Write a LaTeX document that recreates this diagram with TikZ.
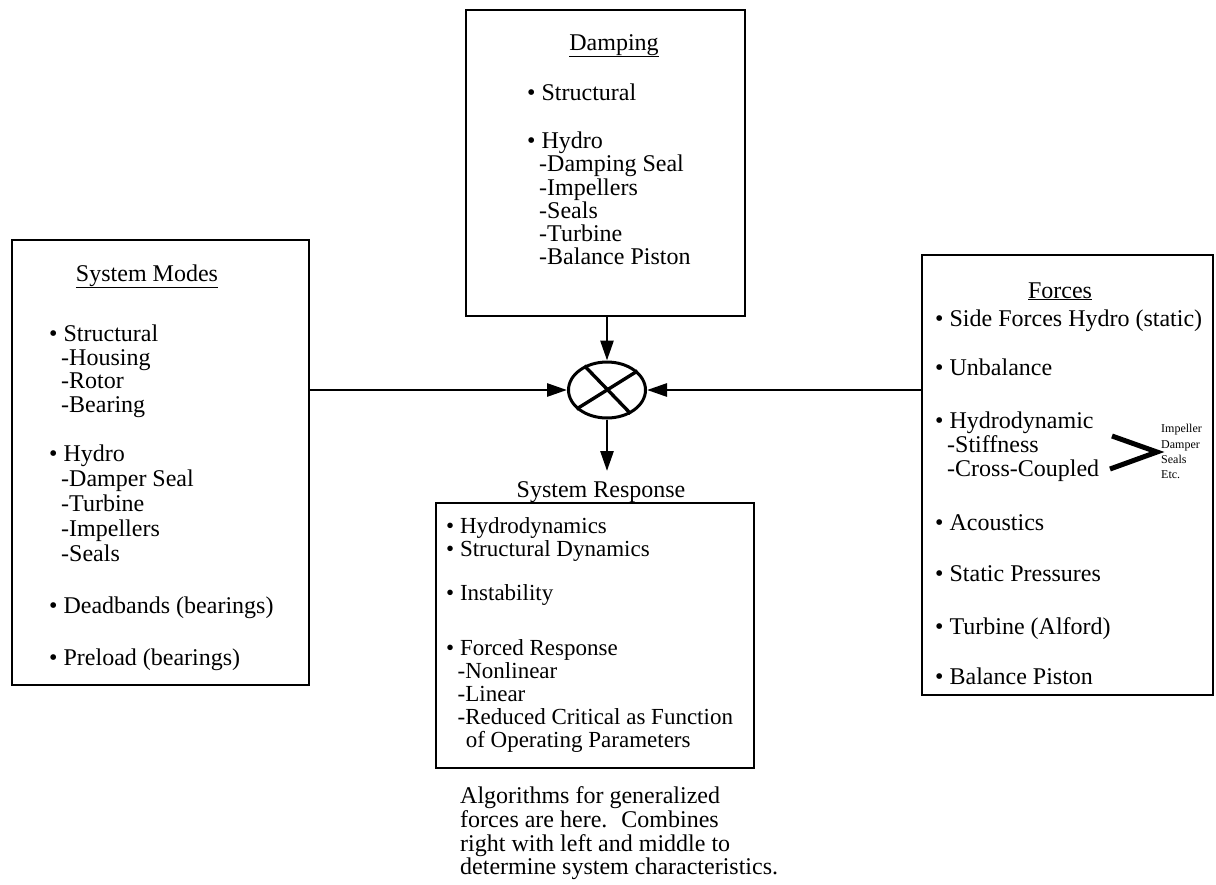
\documentclass[tikz,border=0pt]{standalone}
\usepackage{fontspec}
\setmainfont{Liberation Serif}
\usetikzlibrary{arrows.meta,shapes.geometric}
\newcommand\bul{\textbullet\ }
\newcommand\subi{\hspace*{0.5em}}
\begin{document}
\begin{tikzpicture}[x=1pt,y=-1pt,
  panel/.style={draw, line width=2.8pt, inner sep=0pt, outer sep=0pt, anchor=north west},
  entry/.style={anchor=base west, inner sep=0pt, font=\fontsize{24}{26}\selectfont},
  smallentry/.style={entry, font=\fontsize{23}{25}\selectfont},
  heading/.style={anchor=base, inner sep=0pt, font=\fontsize{24}{26}\selectfont},
  tiny/.style={anchor=base west, inner sep=0pt, font=\fontsize{12}{13}\selectfont},
  feed/.style={line width=2.8pt, -{Triangle[length=20pt,width=13pt]}},
]
\useasboundingbox (0,0) rectangle (1216,884);

% frames
\node[panel, minimum width=297pt, minimum height=445pt] (modes) at (12,240) {};
\node[panel, minimum width=279pt, minimum height=306pt] (damp) at (466,10) {};
\node[panel, minimum width=291pt, minimum height=440pt] (forces) at (922,255) {};
\node[panel, minimum width=318pt, minimum height=265pt] (resp) at (436,503) {};

% summing junction
\node[draw, ellipse, line width=3pt, minimum width=77pt, minimum height=56pt, inner sep=0pt] (sum) at (607,390) {};
\draw[line width=3.4pt] (sum.133) -- (sum.-45);
\draw[line width=3.4pt] (sum.32) -- (sum.-148);

% connectors
\coordinate (out) at (607,471);
\draw[feed] (damp.south -| sum) -- (sum.north);
\draw[feed] (modes.east |- sum) -- (sum.west);
\draw[feed] (forces.west |- sum) -- (sum.east);
\draw[feed] (sum.south) -- (out);

% headings
\node[heading] (modes-t) at (147,281) {\underline{System Modes}};
\node[heading] (damp-t) at (614,50) {\underline{Damping}};
\node[heading] (forces-t) at (1060,298) {\underline{Forces}};
\node[heading] (resp-t) at (601,497) {System Response};

% left list
\foreach \yy/\tx [count=\i] in {341/{\bul Structural}, 365/{\subi-Housing}, 388/{\subi-Rotor},
  412/{\subi-Bearing}, 461/{\bul Hydro}, 486/{\subi-Damper Seal}, 511/{\subi-Turbine},
  536/{\subi-Impellers}, 561/{\subi-Seals}, 613/{\bul Deadbands (bearings)}, 665/{\bul Preload (bearings)}}
  \node[entry] (modes-\i) at (49,\yy) {\tx};

% top list
\foreach \yy/\tx [count=\i] in {100/{\bul Structural}, 148/{\bul Hydro}, 171/{\subi-Damping Seal},
  195/{\subi-Impellers}, 218/{\subi-Seals}, 241/{\subi-Turbine}, 264/{\subi-Balance Piston}}
  \node[entry] (damp-\i) at (527,\yy) {\tx};

% right list
\foreach \yy/\tx [count=\i] in {326/{\bul Side Forces Hydro (static)}, 375/{\bul Unbalance},
  428/{\bul Hydrodynamic}, 452/{\subi-Stiffness}, 476/{\subi-Cross-Coupled}, 530/{\bul Acoustics},
  581/{\bul Static Pressures}, 634/{\bul Turbine (Alford)}, 684/{\bul Balance Piston}}
  \node[entry] (forces-\i) at (935,\yy) {\tx};

% bracket with its small labels
\draw[line width=5pt] (1112,436) -- (1157,452) -- (1110,469);
\foreach \yy/\tx [count=\i] in {432/Impeller, 448/Damper, 463/Seals, 478/Etc.}
  \node[tiny] (kind-\i) at (1161,\yy) {\tx};

% lower list
\foreach \yy/\tx [count=\i] in {533/{\bul Hydrodynamics}, 556/{\bul Structural Dynamics},
  600/{\bul Instability}, 655/{\bul Forced Response}, 678/{\subi-Nonlinear}, 701/{\subi-Linear},
  724/{\subi-Reduced Critical as Function}, 747/{\hspace*{0.85em}of Operating Parameters}}
  \node[smallentry] (resp-\i) at (446,\yy) {\tx};

% note under the response frame
\foreach \yy/\tx [count=\i] in {803/{Algorithms for generalized}, 827/{forces are here.~ Combines},
  851/{right with left and middle to}, 874/{determine system characteristics.}}
  \node[entry] (note-\i) at (460,\yy) {\tx};
\end{tikzpicture}
\end{document}
